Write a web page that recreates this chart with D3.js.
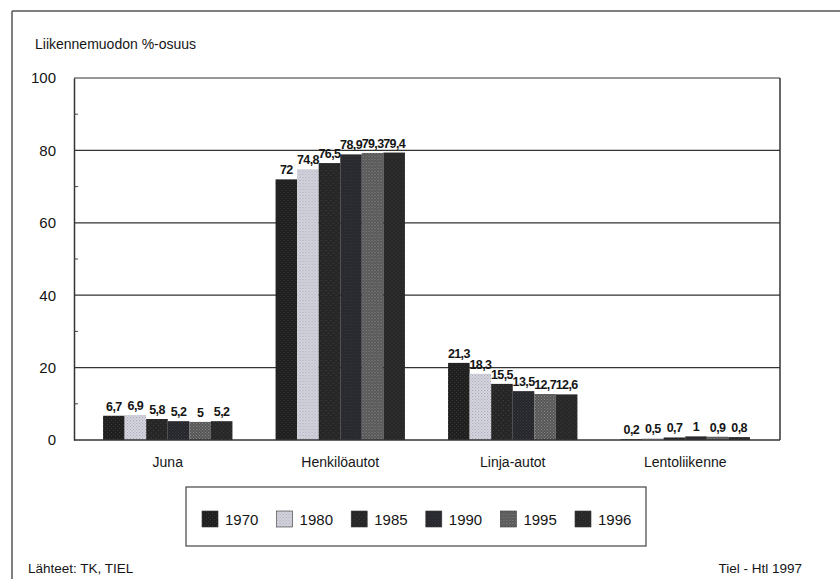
<!DOCTYPE html>
<html>
<head>
<meta charset="utf-8">
<script src="https://cdn.jsdelivr.net/npm/d3@7"></script>
<style>
  html, body { margin: 0; padding: 0; background: #fff; }
  svg { display: block; font-family: "Liberation Sans", Arial, sans-serif; }
</style>
</head>
<body>
<svg id="chart" width="840" height="579"></svg>
<script>
// Traffic mode shares (%) by year
const categories = ["Juna", "Henkilöautot", "Linja-autot", "Lentoliikenne"];
const years = ["1970", "1980", "1985", "1990", "1995", "1996"];
const values1970 = [6.7, 72, 21.3, 0.2];
const values1980 = [6.9, 74.8, 18.3, 0.5];
const values1985 = [5.8, 76.5, 15.5, 0.7];
const values1990 = [5.2, 78.9, 13.5, 1];
const values1995 = [5, 79.3, 12.7, 0.9];
const values1996 = [5.2, 79.4, 12.6, 0.8];
const yTicks = [0, 20, 40, 60, 80, 100];
const minorTicks = [10, 30, 50, 70, 90];

const seriesValues = [values1970, values1980, values1985, values1990, values1995, values1996];
const rows = categories.map((c, i) => ({
  category: c,
  bars: years.map((y, j) => ({ year: y, value: seriesValues[j][i] }))
}));

const svg = d3.select("#chart");
const defs = svg.append("defs");

// Fill textures for each year
function stipple(id, base, dot, size, r) {
  const p = defs.append("pattern").attr("id", id)
    .attr("width", size).attr("height", size).attr("patternUnits", "userSpaceOnUse");
  p.append("rect").attr("width", size).attr("height", size).attr("fill", base);
  p.append("rect").attr("x", 0).attr("y", 0).attr("width", r).attr("height", r).attr("fill", dot);
  p.append("rect").attr("x", size / 2).attr("y", size / 2).attr("width", r).attr("height", r).attr("fill", dot);
}
stipple("p1970", "#202020", "#363636", 4, 1);
stipple("p1980", "#d6d6e0", "#a8a8b4", 3, 1);
stipple("p1985", "#262626", "#444444", 5, 1);
stipple("p1990", "#25252b", "#3c3c44", 3, 1);
stipple("p1995", "#555555", "#8a8a8a", 3, 1);
stipple("p1996", "#282828", "#383838", 4, 1);
const fills = {};
years.forEach(y => fills[y] = `url(#p${y})`);

const ink = "#151515";

// Outer frame
svg.append("line").attr("x1", 12).attr("x2", 12).attr("y1", 11).attr("y2", 579)
  .attr("stroke", "#555").attr("stroke-width", 1.5);
svg.append("line").attr("x1", 12).attr("x2", 840).attr("y1", 11).attr("y2", 11)
  .attr("stroke", "#555").attr("stroke-width", 1.5);

// Title
svg.append("text").attr("x", 35).attr("y", 49)
  .attr("font-size", 14).attr("fill", ink).text("Liikennemuodon %-osuus");

const plot = { left: 74, right: 780, top: 78, bottom: 440 };

const y = d3.scaleLinear().domain([0, 100]).range([plot.bottom, plot.top]);
const x0 = d3.scaleBand().domain(categories).range([81.5, 771.5])
  .paddingInner(0.25).paddingOuter(0.125);
const x1 = d3.scaleBand().domain(years).range([0, x0.bandwidth()]);

// Gridlines
svg.append("g").selectAll("line").data(yTicks.filter(d => d > 0)).join("line")
  .attr("x1", plot.left).attr("x2", plot.right)
  .attr("y1", d => y(d)).attr("y2", d => y(d))
  .attr("stroke", "#333").attr("stroke-width", 1.2);

// Plot border (right side)
svg.append("line").attr("x1", plot.right).attr("x2", plot.right)
  .attr("y1", plot.top).attr("y2", plot.bottom).attr("stroke", "#333").attr("stroke-width", 1.5);

// Y axis
const yAxis = svg.append("g").attr("transform", `translate(${plot.left},0)`)
  .call(d3.axisLeft(y).tickValues(yTicks).tickSize(0).tickPadding(18));
yAxis.select(".domain").attr("stroke", "#333").attr("stroke-width", 1.5);
yAxis.selectAll("text").attr("font-size", 15).attr("fill", ink)
  .attr("font-family", "'Liberation Sans', Arial, sans-serif");
svg.append("g").selectAll("line").data(minorTicks).join("line")
  .attr("x1", plot.left).attr("x2", plot.left + 4)
  .attr("y1", d => y(d)).attr("y2", d => y(d))
  .attr("stroke", "#444").attr("stroke-width", 1);

// Bars
const groups = svg.append("g").selectAll("g").data(rows).join("g")
  .attr("transform", d => `translate(${x0(d.category)},0)`);
groups.selectAll("rect").data(d => d.bars).join("rect")
  .attr("x", d => x1(d.year))
  .attr("width", x1.bandwidth())
  .attr("y", d => y(d.value))
  .attr("height", d => y(0) - y(d.value))
  .attr("fill", d => fills[d.year]);

// Value labels
groups.selectAll("text").data(d => d.bars).join("text")
  .attr("x", d => x1(d.year) + x1.bandwidth() / 2)
  .attr("y", d => y(d.value) - 5)
  .attr("text-anchor", "middle")
  .attr("font-size", 12.5).attr("font-weight", "bold").attr("fill", ink)
  .attr("letter-spacing", -0.6)
  .text(d => String(d.value).replace(".", ","));

// X axis
const xAxis = svg.append("g").attr("transform", `translate(0,${plot.bottom})`)
  .call(d3.axisBottom(x0).tickSize(0).tickPadding(17));
xAxis.select(".domain").attr("d", `M${plot.left},0H${plot.right}`)
  .attr("stroke", "#333").attr("stroke-width", 1.5);
xAxis.selectAll("text").attr("font-size", 14).attr("fill", ink)
  .attr("font-family", "'Liberation Sans', Arial, sans-serif");

// Legend
const legend = svg.append("g");
legend.append("rect").attr("x", 186).attr("y", 487).attr("width", 460).attr("height", 59)
  .attr("fill", "none").attr("stroke", "#444").attr("stroke-width", 1.2);
const items = legend.selectAll("g").data(years).join("g")
  .attr("transform", (d, i) => `translate(${202 + i * 74.6},511)`);
items.append("rect").attr("width", 16).attr("height", 16)
  .attr("fill", d => fills[d]).attr("stroke", "#333").attr("stroke-width", 0.6);
items.append("text").attr("x", 23).attr("y", 14)
  .attr("font-size", 15).attr("fill", ink).text(d => d);

// Footer
svg.append("text").attr("x", 28).attr("y", 573).attr("font-size", 13.5).attr("fill", ink)
  .text("Lähteet: TK, TIEL");
svg.append("text").attr("x", 802).attr("y", 573).attr("text-anchor", "end")
  .attr("font-size", 13.5).attr("fill", ink).text("Tiel - Htl 1997");
</script>
</body>
</html>
